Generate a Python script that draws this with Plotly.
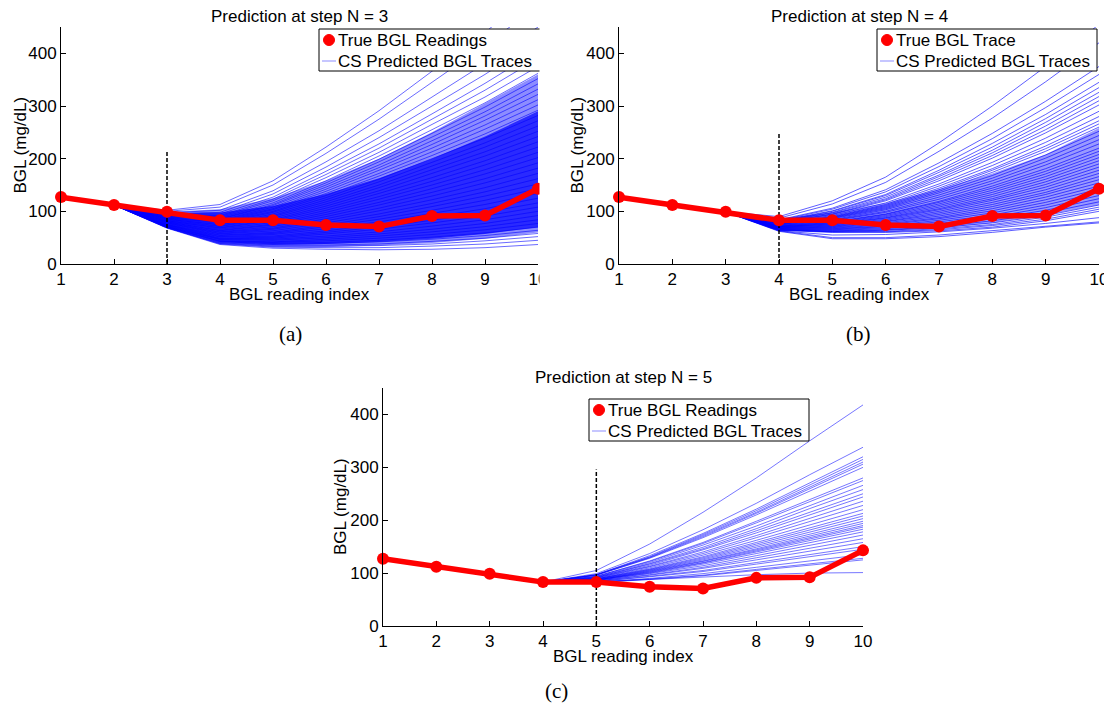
import plotly.graph_objects as go

W, H = 1112, 710
PAGE_MARGIN = 8  # the html body keeps its default 8px margin

# ---- data ----
reading_index = [1, 2, 3, 4, 5, 6, 7, 8, 9, 10]
true_bgl = [127, 112, 99, 83, 83, 74, 71, 91, 92, 143]
pred_steps = [3, 4, 5]
step_line_top = [213, 249, 296]
y_ticks = [0, 100, 200, 300, 400]

panel_titles = ["Prediction at step N = 3", "Prediction at step N = 4", "Prediction at step N = 5"]
true_labels = ["True BGL Readings", "True BGL Trace", "True BGL Readings"]
pred_label = "CS Predicted BGL Traces"
captions = ["(a)", "(b)", "(c)"]

# CS predicted traces, values from reading N onward (each starts at the true reading N-1)
cs_traces_n3 = [
    [68, 37, 30, 28, 27, 28, 31, 37],
    [69, 38, 32, 31, 31, 34, 38, 45],
    [69, 39, 34, 34, 35, 38, 44, 52],
    [69, 40, 36, 36, 38, 43, 49, 58],
    [70, 41, 37, 39, 42, 47, 54, 64],
    [70, 42, 39, 41, 45, 51, 59, 70],
    [71, 43, 41, 44, 49, 56, 65, 77],
    [71, 44, 42, 47, 53, 61, 71, 84],
    [72, 46, 45, 50, 57, 66, 77, 92],
    [72, 47, 47, 53, 61, 72, 84, 100],
    [73, 48, 49, 57, 66, 78, 91, 108],
    [74, 49, 51, 60, 70, 83, 98, 116],
    [74, 51, 53, 63, 75, 89, 105, 125],
    [75, 52, 56, 67, 80, 96, 113, 134],
    [75, 54, 58, 71, 85, 102, 121, 143],
    [76, 55, 60, 74, 90, 109, 129, 152],
    [77, 57, 63, 78, 95, 115, 137, 162],
    [78, 58, 66, 82, 101, 122, 145, 172],
    [78, 60, 68, 86, 106, 129, 154, 182],
    [79, 61, 71, 90, 112, 136, 162, 192],
    [80, 63, 74, 94, 117, 143, 171, 202],
    [80, 64, 76, 98, 123, 150, 179, 212],
    [81, 66, 79, 102, 128, 157, 188, 222],
    [82, 68, 82, 106, 134, 164, 196, 232],
    [82, 69, 84, 110, 139, 172, 205, 242],
    [83, 71, 87, 114, 145, 179, 213, 252],
    [84, 72, 90, 118, 150, 186, 222, 262],
    [85, 74, 92, 122, 156, 193, 230, 272],
    [85, 75, 95, 126, 161, 200, 239, 282],
    [86, 77, 98, 130, 167, 206, 247, 292],
    [87, 79, 100, 134, 172, 213, 256, 302],
    [87, 80, 103, 138, 178, 220, 264, 312],
    [88, 82, 105, 142, 183, 227, 273, 322],
    [89, 83, 108, 146, 188, 234, 281, 332],
    [90, 85, 111, 150, 194, 241, 289, 342],
    [90, 86, 113, 154, 199, 248, 298, 352],
    [91, 88, 116, 158, 205, 255, 306, 362],
    [92, 90, 120, 164, 212, 265, 317, 375],
    [93, 92, 123, 170, 220, 275, 330, 390],
    [94, 95, 127, 176, 228, 285, 343, 405],
    [95, 98, 133, 184, 240, 300, 360, 425],
    [97, 102, 139, 194, 253, 317, 381, 450],
    [100, 108, 150, 210, 275, 345, 415, 490],
    [102, 113, 158, 222, 291, 366, 440, 520],
]
# shaded density of the crowded CS traces (outer and inner envelopes)
dense_outer_lo_n3 = [112, 68, 38, 32, 32, 35, 40, 48, 60]
dense_outer_hi_n3 = [112, 99, 104, 125, 158, 200, 250, 305, 360]
dense_inner_lo_n3 = [112, 70, 42, 37, 38, 42, 48, 57, 70]
dense_inner_hi_n3 = [112, 97, 98, 110, 133, 163, 200, 242, 290]

cs_traces_n4 = [
    [62, 48, 48, 52, 60, 70, 78],
    [63, 50, 50, 55, 63, 72, 80],
    [63, 55, 56, 61, 68, 77, 88],
    [64, 60, 60, 63, 70, 82, 100],
    [64, 61, 61, 65, 73, 85, 104],
    [65, 61, 62, 67, 75, 89, 108],
    [65, 62, 64, 69, 78, 92, 112],
    [65, 63, 65, 71, 82, 97, 118],
    [66, 64, 67, 74, 86, 102, 124],
    [66, 65, 69, 77, 89, 107, 130],
    [67, 66, 71, 80, 93, 112, 136],
    [67, 67, 72, 83, 97, 117, 142],
    [68, 68, 74, 86, 101, 122, 148],
    [68, 69, 76, 88, 105, 127, 154],
    [68, 70, 78, 91, 109, 132, 160],
    [69, 71, 80, 94, 113, 136, 166],
    [69, 72, 81, 97, 117, 141, 172],
    [70, 73, 83, 100, 121, 146, 178],
    [70, 74, 85, 103, 124, 151, 184],
    [71, 75, 87, 105, 128, 156, 190],
    [71, 76, 88, 108, 132, 161, 196],
    [71, 77, 90, 111, 136, 166, 202],
    [72, 78, 92, 114, 140, 171, 208],
    [72, 79, 94, 117, 144, 176, 214],
    [73, 80, 95, 119, 148, 181, 220],
    [73, 82, 98, 123, 153, 188, 228],
    [74, 83, 100, 127, 158, 194, 236],
    [75, 84, 103, 131, 163, 201, 244],
    [75, 86, 105, 135, 168, 207, 252],
    [76, 87, 107, 138, 174, 214, 260],
    [76, 88, 109, 141, 178, 219, 266],
    [77, 89, 111, 144, 181, 224, 272],
    [77, 90, 113, 148, 187, 231, 280],
    [78, 92, 116, 152, 193, 239, 290],
    [79, 94, 120, 158, 201, 249, 302],
    [79, 95, 122, 162, 206, 255, 310],
    [80, 97, 124, 166, 211, 262, 318],
    [81, 98, 127, 169, 216, 269, 326],
    [81, 100, 130, 174, 222, 276, 335],
    [82, 101, 132, 178, 229, 284, 345],
    [83, 104, 137, 185, 238, 297, 360],
    [84, 106, 141, 192, 248, 309, 375],
    [87, 114, 155, 214, 277, 346, 420],
    [90, 120, 165, 230, 300, 375, 455],
]
dense_lo_n4 = [99, 64, 61, 63, 68, 78, 93, 112]
dense_hi_n4 = [99, 86, 98, 116, 142, 172, 208, 258]

cs_traces_n5 = [
    [84, 88, 93, 97, 100, 101],
    [82, 88, 95, 105, 115, 125],
    [82, 89, 96, 107, 117, 128],
    [83, 90, 99, 111, 123, 135],
    [84, 93, 103, 117, 131, 145],
    [84, 94, 105, 120, 135, 150],
    [85, 96, 109, 125, 141, 158],
    [85, 97, 111, 129, 147, 165],
    [86, 99, 114, 133, 153, 172],
    [86, 100, 117, 137, 158, 178],
    [87, 101, 119, 140, 162, 183],
    [87, 102, 120, 142, 165, 187],
    [87, 103, 122, 144, 167, 190],
    [87, 104, 123, 146, 170, 194],
    [88, 105, 125, 149, 174, 198],
    [88, 106, 127, 152, 178, 203],
    [89, 107, 129, 155, 182, 208],
    [89, 108, 131, 158, 186, 213],
    [89, 110, 134, 162, 191, 220],
    [90, 112, 137, 167, 198, 228],
    [91, 113, 140, 171, 204, 236],
    [91, 115, 144, 176, 210, 244],
    [92, 117, 146, 180, 215, 250],
    [92, 118, 149, 184, 222, 258],
    [93, 120, 153, 189, 228, 266],
    [94, 122, 156, 195, 235, 275],
    [94, 123, 158, 198, 239, 280],
    [96, 128, 167, 210, 255, 300],
    [96, 129, 169, 213, 260, 306],
    [97, 130, 171, 215, 263, 310],
    [97, 131, 173, 218, 267, 315],
    [97, 133, 175, 221, 271, 320],
    [99, 137, 182, 232, 286, 338],
    [105, 155, 215, 280, 350, 418],
]

cs_traces = [cs_traces_n3, cs_traces_n4, cs_traces_n5]
dense_bands = [
    [(dense_outer_lo_n3, dense_outer_hi_n3, 0.45), (dense_inner_lo_n3, dense_inner_hi_n3, 0.7)],
    [(dense_lo_n4, dense_hi_n4, 0.4)],
    [],
]
line_alpha = [0.65, 0.7, 0.6]

# ---- layout geometry (pixels of the 1112x710 picture) ----
FW, FH = W - PAGE_MARGIN, H - PAGE_MARGIN


def px(x):
    return (x - PAGE_MARGIN) / FW


def py(y):
    return 1 - (y - PAGE_MARGIN) / FH


# plot box: left, right, top, bottom ; legend: left, top, right
panels = [
    dict(box=(61, 538, 27, 264), legend=(319, 29, 545), ylab_x=20, caption=(290, 334)),
    dict(box=(619, 1099, 27, 264), legend=(877, 29, 1097), ylab_x=577, caption=(858, 334)),
    dict(box=(383, 863, 388, 626), legend=(589, 399, 809), ylab_x=341, caption=(556, 691)),
]

FONT = "Liberation Sans"

fig = go.Figure()
annotations = []
shapes = []

for i, p in enumerate(panels):
    sfx = "" if i == 0 else str(i + 1)
    xa, ya = "x" + sfx, "y" + sfx
    N = pred_steps[i]
    xs = reading_index[N - 2:]
    start = true_bgl[N - 2]

    for lo, hi, alpha in dense_bands[i]:
        bx = reading_index[N - 2:N - 2 + len(lo)]
        fig.add_trace(go.Scatter(x=bx, y=lo, mode="lines", line=dict(width=0),
                                 xaxis=xa, yaxis=ya, showlegend=False, hoverinfo="skip"))
        fig.add_trace(go.Scatter(x=bx, y=hi, mode="lines", line=dict(width=0),
                                 fill="tonexty", fillcolor="rgba(0,0,255,%s)" % alpha,
                                 xaxis=xa, yaxis=ya, showlegend=False, hoverinfo="skip"))

    blue = "rgba(0,0,255,%s)" % line_alpha[i]
    for tr in cs_traces[i]:
        fig.add_trace(go.Scatter(x=xs, y=[start] + tr, mode="lines",
                                 line=dict(color=blue, width=0.9),
                                 xaxis=xa, yaxis=ya, showlegend=False, hoverinfo="skip"))

    # vertical dashed marker of the prediction step
    fig.add_trace(go.Scatter(x=[N, N], y=[0, step_line_top[i]], mode="lines",
                             line=dict(color="black", width=1.5, dash="4px,2px"),
                             xaxis=xa, yaxis=ya, showlegend=False))

    fig.add_trace(go.Scatter(x=reading_index, y=true_bgl, mode="lines+markers",
                             line=dict(color="red", width=5.5),
                             marker=dict(color="red", size=12),
                             cliponaxis=False,
                             xaxis=xa, yaxis=ya, showlegend=False))

    l, r, t, b = p["box"]
    axis_style = dict(ticks="inside", ticklen=5, tickcolor="black", showline=True,
                      linecolor="black", linewidth=1, showgrid=False, zeroline=False,
                      automargin=False,
                      tickfont=dict(family=FONT, size=17, color="black"))
    fig.update_layout({
        "xaxis" + sfx: dict(domain=[px(l), px(r)], anchor=ya, range=[1, 10],
                            tickvals=reading_index, **axis_style),
        "yaxis" + sfx: dict(domain=[py(b), py(t)], anchor=xa, range=[0, 450],
                            tickvals=y_ticks, **axis_style),
    })

    cx = (l + r) / 2
    annotations.append(dict(text=panel_titles[i], x=px(cx), y=py(t - 11), xref="paper", yref="paper",
                            showarrow=False, xanchor="center", yanchor="middle",
                            font=dict(family=FONT, size=17, color="black")))
    annotations.append(dict(text="BGL reading index", x=px(cx), y=py(b + 30), xref="paper", yref="paper",
                            showarrow=False, xanchor="center", yanchor="middle",
                            font=dict(family=FONT, size=17, color="black")))
    annotations.append(dict(text="BGL (mg/dL)", x=px(p["ylab_x"]), y=py((t + b) / 2), xref="paper",
                            yref="paper", showarrow=False, textangle=-90,
                            xanchor="center", yanchor="middle",
                            font=dict(family=FONT, size=17, color="black")))
    capx, capy = p["caption"]
    annotations.append(dict(text=captions[i], x=px(capx), y=py(capy), xref="paper", yref="paper",
                            showarrow=False, xanchor="center", yanchor="middle",
                            font=dict(family="Liberation Serif", size=21, color="black")))

    # legend box drawn by hand (MATLAB style)
    ll, lt, lr = p["legend"]
    row1, row2 = lt + 11, lt + 32
    shapes.append(dict(type="rect", xref="paper", yref="paper", x0=px(ll), x1=px(lr),
                       y0=py(lt + 42), y1=py(lt), line=dict(color="black", width=1),
                       fillcolor="white", layer="above"))
    shapes.append(dict(type="circle", xref="paper", yref="paper",
                       x0=px(ll + 4.5), x1=px(ll + 15.5), y0=py(row1 + 5.5), y1=py(row1 - 5.5),
                       fillcolor="red", line=dict(color="red", width=1), layer="above"))
    shapes.append(dict(type="line", xref="paper", yref="paper",
                       x0=px(ll + 3), x1=px(ll + 17), y0=py(row2), y1=py(row2),
                       line=dict(color="rgba(0,0,255,0.45)", width=1), layer="above"))
    for txt, ry in ((true_labels[i], row1), (pred_label, row2)):
        annotations.append(dict(text=txt, x=px(ll + 17), y=py(ry), xref="paper", yref="paper",
                                showarrow=False, xanchor="left", yanchor="middle",
                                font=dict(family=FONT, size=17, color="black")))

# panel (a) is cut at its right edge in the original figure
shapes.append(dict(type="rect", xref="paper", yref="paper", x0=px(539.5), x1=px(562),
                   y0=py(320), y1=py(PAGE_MARGIN), line=dict(width=0), fillcolor="white",
                   layer="above"))

fig.update_layout(width=FW, height=FH, margin=dict(l=0, r=0, t=0, b=0),
                  paper_bgcolor="white", plot_bgcolor="white",
                  annotations=annotations, shapes=shapes, showlegend=False)

fig.write_html("out.html")
